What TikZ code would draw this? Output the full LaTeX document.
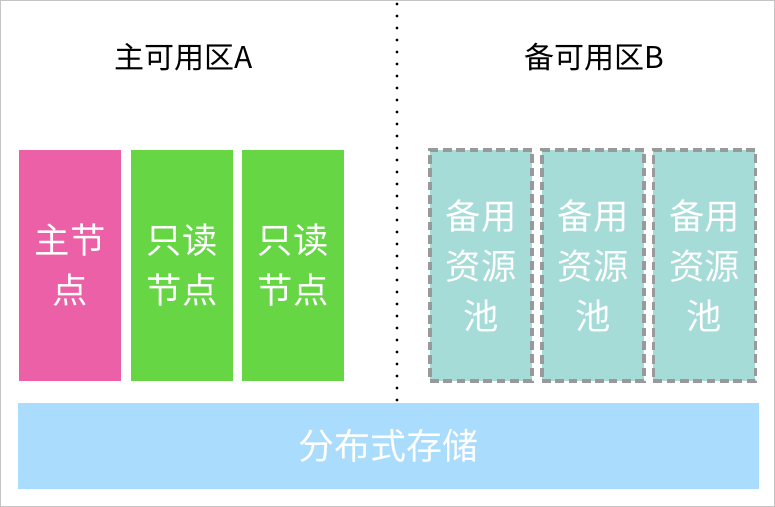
\documentclass[tikz,border=0pt]{standalone}
\usepackage{fontspec}
\setmainfont{Noto Sans CJK SC}
\usepackage{xcolor}
\usepackage{tikz}
\usetikzlibrary{positioning,calc}

\definecolor{masterpink}{HTML}{EB60A6}
\definecolor{readgreen}{HTML}{66D645}
\definecolor{spareteal}{HTML}{A6DCD8}
\definecolor{storeblue}{HTML}{A9DCFD}
\definecolor{dashgray}{HTML}{999999}
\definecolor{frame}{HTML}{C4C4C4}

\tikzset{
    zonebox/.style={minimum width=76.5pt, minimum height=173.25pt, inner sep=0pt, outer sep=0pt,
        text=white, align=center, font=\fontsize{26.5pt}{37.5pt}\selectfont},
    sparebox/.style={zonebox, fill=spareteal, draw=dashgray, line width=2.4pt,
        dash pattern=on 6.5pt off 3.5pt},
    zonetitle/.style={font=\fontsize{22.5pt}{26pt}\selectfont}
}

\begin{document}
\begin{tikzpicture}[x=0.75pt, y=-0.75pt]
    \useasboundingbox (0,0) rectangle (775,507);
    \draw[frame, line width=0.75pt] (0.5,0.5) rectangle (774.5,506.5);

    % Titles
    \node[zonetitle] (zoneA) at (184,57) {主可用区A};
    \node[zonetitle] (zoneB) at (594,57) {备可用区B};

    % Zone A
    \node[zonebox, fill=masterpink] (master) at (70,265.5) {主节\\点};
    \node[zonebox, fill=readgreen, right=7.5pt of master] (read1) {只读\\节点};
    \node[zonebox, fill=readgreen, right=6.75pt of read1] (read2) {只读\\节点};

    % Zone B
    \node[sparebox] (spare1) at (481,265.5) {备用\\资源\\池};
    \node[sparebox, right=7.5pt of spare1] (spare2) {备用\\资源\\池};
    \node[sparebox, right=7pt of spare2] (spare3) {备用\\资源\\池};

    % Storage
    \node[fill=storeblue, minimum width=555.75pt, minimum height=64.5pt, inner sep=0pt,
        text=white, font=\fontsize{27pt}{30pt}\selectfont] (store) at (388.5,446) {分布式存储};

    % Divider
    \coordinate (divtop) at (397,4);
    \coordinate (divbot) at (397,410);
    \draw[line width=2.4pt, line cap=round, dash pattern=on 0pt off 9pt] (divtop) -- (divbot);
\end{tikzpicture}
\end{document}
